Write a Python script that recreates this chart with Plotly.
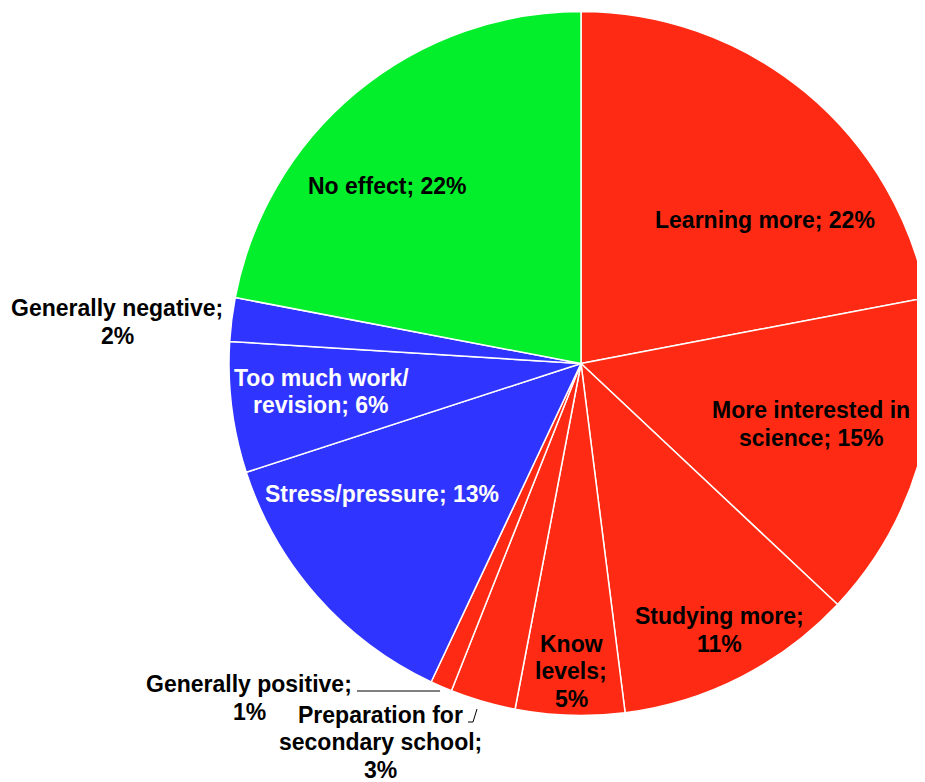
import plotly.graph_objects as go

# ---- data ----
categories = [
    "Learning more", "More interested in science", "Studying more", "Know levels",
    "Preparation for secondary school", "Generally positive", "Stress/pressure",
    "Too much work/revision", "Generally negative", "No effect",
]
values = [22, 15, 11, 5, 3, 1, 13, 6, 2, 22]
display_text = [
    "Learning more; 22%",
    "More interested in<br>science; 15%",
    "Studying more;<br>11%",
    "Know<br>levels;<br>5%",
    "Preparation for<br>secondary school;<br>3%",
    "Generally positive;<br>1%",
    "Stress/pressure; 13%",
    "Too much work/<br>revision; 6%",
    "Generally negative;<br>2%",
    "No effect; 22%",
]

# ---- styles / positions (screen pixels of the reference) ----
OFF = 8                      # page body margin
W, H = 925, 782 - OFF
RED, GREEN, BLUE = "#FF2A13", "#03EE2B", "#3034FF"
slice_colors = [RED] * 6 + [BLUE] * 3 + [GREEN]
label_colors = ["black"] * 6 + ["white", "white", "black", "black"]
label_px = [
    (765, 220), (811, 424), (719, 630), (571, 671), (380, 742),
    (249, 698), (382, 494), (321, 391.5), (117, 322), (387, 186),
]
LINE = 27.5
FONT = "Liberation Sans, Arial, sans-serif"


def fx(x):
    return (x - OFF) / W


def fy(y):
    return 1 - (y - OFF) / H


cx, cy = 581 - OFF, 363.5 - OFF
r = W - cx
fig = go.Figure(go.Pie(
    labels=categories, values=values, sort=False, direction="clockwise", rotation=0,
    marker=dict(colors=slice_colors, line=dict(color="white", width=1.5)),
    textinfo="none", hoverinfo="label+percent", showlegend=False,
    domain=dict(x=[(cx - r) / W, 1], y=[1 - (cy + r) / H, 1 - (cy - r) / H]),
))

annotations = []
for t, (px, py), col in zip(display_text, label_px, label_colors):
    lines = t.split("<br>")
    n = len(lines)
    for i, ln in enumerate(lines):
        ly = py + (i - (n - 1) / 2) * LINE
        annotations.append(dict(
            x=fx(px), y=fy(ly), xref="paper", yref="paper", text="<b>" + ln + "</b>",
            showarrow=False, xanchor="center", yanchor="middle",
            font=dict(family=FONT, size=23, color=col),
        ))


def seg(x0, y0, x1, y1):
    return dict(type="line", xref="paper", yref="paper",
                x0=fx(x0), y0=fy(y0), x1=fx(x1), y1=fy(y1),
                line=dict(color="black", width=1))


shapes = [
    seg(357, 691, 440, 691),
    seg(468, 722, 473, 722),
    seg(473, 722, 477, 709),
]

fig.update_layout(
    width=W, height=H, margin=dict(l=0, r=0, t=0, b=0),
    paper_bgcolor="white", plot_bgcolor="white",
    annotations=annotations, shapes=shapes,
    font=dict(family=FONT),
)

fig.write_html("out.html")
